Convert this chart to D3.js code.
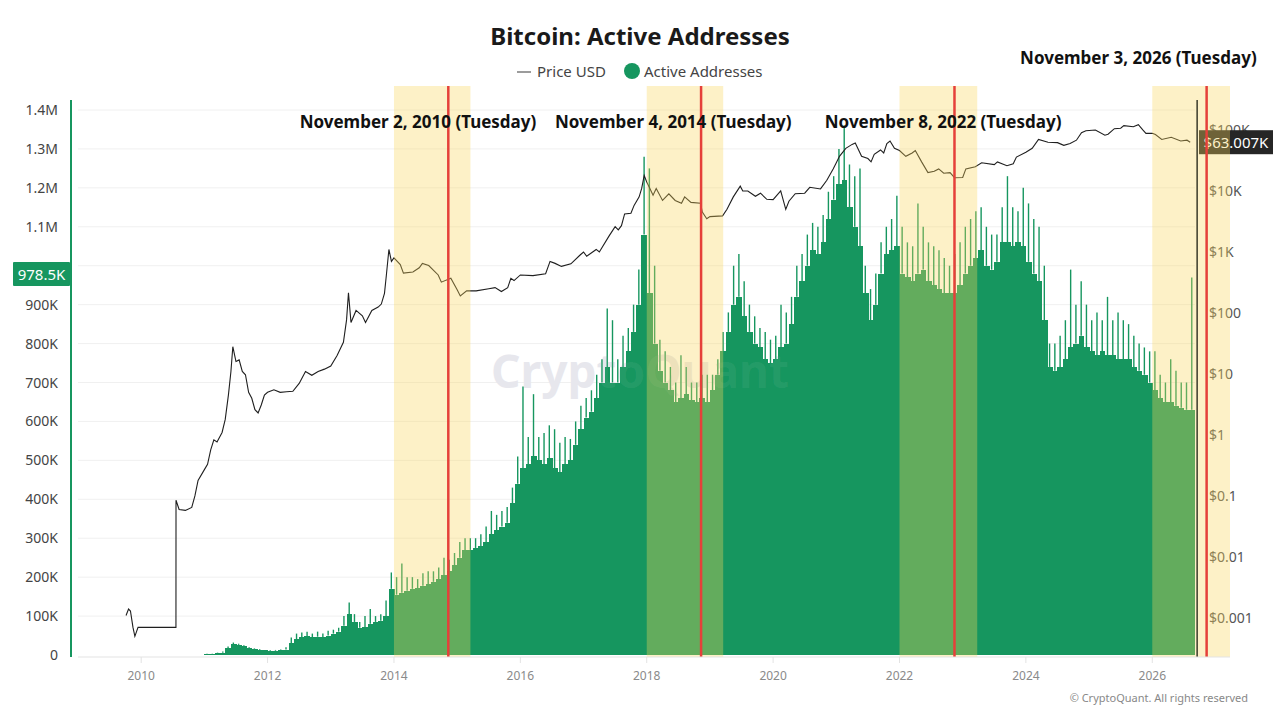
<!DOCTYPE html>
<html>
<head>
<meta charset="utf-8">
<script src="https://cdn.jsdelivr.net/npm/d3@7"></script>
<style>
  body { margin: 0; background: #fff; }
  svg { font-family: "Noto Sans", "Open Sans", sans-serif; }
</style>
</head>
<body>
<div id="chart"></div>
<script>
// Active addresses, monthly from Jan 2011, in thousands (typical level and highest daily spike)
const aaStart = 2011;
const aaBody = [
  2, 3, 4, 6, 18, 28, 26, 22, 18, 15, 13, 12,
  11, 11, 12, 14, 30, 40, 45, 48, 45, 47, 45, 50,
  55, 60, 75, 105, 85, 70, 72, 80, 85, 88, 100, 170,
  155, 160, 165, 170, 172, 178, 182, 188, 195, 205, 215, 230,
  250, 270, 270, 275, 280, 290, 310, 320, 330, 340, 390, 440,
  480, 490, 510, 500, 490, 505, 480, 470, 490, 500, 540, 580,
  610, 625, 660, 700, 740, 700, 700, 740, 780, 830, 900, 1080,
  930, 800, 730, 700, 680, 650, 660, 670, 655, 650, 660, 650,
  680, 720, 780, 830, 900, 920, 870, 830, 800, 790, 760, 750,
  760, 790, 800, 850, 920, 960, 1000, 1040, 1030, 1060, 1120, 1170,
  1210, 1220, 1150, 1100, 1050, 930, 860, 900, 980, 1030, 1040, 1050,
  980, 970, 960, 980, 990, 960, 950, 940, 930, 930, 930, 950,
  980, 1000, 1020, 1040, 1000, 990, 1010, 1060, 1060, 1050, 1060, 1050,
  1010, 980, 960, 860, 740, 730, 740, 760, 790, 800, 820, 790,
  780, 770, 780, 770, 770, 760, 760, 760, 740, 730, 720, 700,
  680, 660, 650, 650, 640, 635, 630, 630
];
const aaPeak = [
  3, 4, 6, 9, 22, 32, 29, 25, 20, 17, 15, 13,
  13, 13, 14, 20, 45, 55, 58, 60, 55, 60, 55, 62,
  65, 70, 100, 135, 105, 85, 100, 118, 100, 105, 140, 212,
  200, 235, 200, 200, 195, 210, 215, 215, 225, 250, 245, 262,
  290, 300, 300, 300, 310, 330, 370, 360, 370, 380, 430, 510,
  690, 560, 670, 560, 570, 590, 580, 545, 560, 555, 600, 640,
  660, 680, 720, 760, 890, 860, 760, 820, 840, 900, 990, 1280,
  1250, 1000, 810, 780, 740, 700, 770, 740, 700, 700, 720, 720,
  720, 760, 830, 880, 1000, 1030, 960, 900, 870, 840, 830, 810,
  820, 900, 880, 920, 1000, 1030, 1080, 1110, 1100, 1130, 1190, 1230,
  1300, 1360, 1260, 1230, 1250, 1000, 940, 980, 1060, 1100, 1120, 1180,
  1100, 1060, 1050, 1160, 1100, 1060, 1050, 1040, 1020, 1000, 1030, 1060,
  1100, 1120, 1140, 1150, 1100, 1080, 1080, 1150, 1230, 1150, 1140, 1200,
  1160, 1120, 1100, 1000, 800, 800, 820, 860, 990, 900, 960, 900,
  860, 880, 860, 920, 860, 880, 860, 850, 820, 800, 790, 780,
  780, 720, 700, 760, 730, 700, 700, 970
];

// Price USD (log axis), read at irregular dates
const priceYears = [
  2009.76, 2009.8, 2009.83, 2009.87, 2009.9, 2009.95, 2010.55, 2010.551, 2010.6, 2010.7, 2010.8,
  2010.85, 2010.9, 2011.0, 2011.05, 2011.1, 2011.15, 2011.2, 2011.28, 2011.33, 2011.38, 2011.42,
  2011.45, 2011.48, 2011.5, 2011.55, 2011.6, 2011.65, 2011.7, 2011.75, 2011.8, 2011.85, 2011.9,
  2011.95, 2012.0, 2012.1, 2012.2, 2012.3, 2012.4, 2012.5, 2012.6, 2012.7, 2012.8, 2012.9,
  2013.0, 2013.1, 2013.2, 2013.25, 2013.28, 2013.32, 2013.4, 2013.5, 2013.55, 2013.65, 2013.75,
  2013.8, 2013.85, 2013.88, 2013.92, 2013.96, 2014.0, 2014.1, 2014.15, 2014.3, 2014.4, 2014.45,
  2014.55, 2014.7, 2014.75, 2014.9, 2015.0, 2015.05, 2015.15, 2015.3, 2015.5, 2015.6, 2015.7,
  2015.8, 2015.85, 2015.9, 2016.0, 2016.2, 2016.4, 2016.47, 2016.55, 2016.65, 2016.8, 2016.95,
  2017.0, 2017.05, 2017.2, 2017.25, 2017.4, 2017.5, 2017.55, 2017.6, 2017.65, 2017.75, 2017.8,
  2017.88, 2017.92, 2017.96, 2018.0, 2018.05, 2018.1, 2018.15, 2018.25, 2018.35, 2018.45, 2018.55,
  2018.6, 2018.7, 2018.85, 2018.88, 2018.95, 2019.0, 2019.2, 2019.27, 2019.37, 2019.48, 2019.52,
  2019.6, 2019.72, 2019.8, 2019.9, 2020.0, 2020.12, 2020.2, 2020.25, 2020.35, 2020.5, 2020.58,
  2020.75, 2020.85, 2020.95, 2021.0, 2021.05, 2021.15, 2021.25, 2021.3, 2021.4, 2021.5, 2021.55,
  2021.6, 2021.7, 2021.75, 2021.8, 2021.85, 2021.92, 2022.0, 2022.1, 2022.2, 2022.25, 2022.35,
  2022.45, 2022.55, 2022.62, 2022.7, 2022.8, 2022.87, 2023.0, 2023.05, 2023.2, 2023.3, 2023.5,
  2023.55, 2023.7, 2023.8, 2023.85, 2024.0, 2024.1, 2024.2, 2024.35, 2024.5, 2024.6, 2024.7,
  2024.8, 2024.88, 2024.95, 2025.1, 2025.25, 2025.3, 2025.4, 2025.5, 2025.55, 2025.7, 2025.78,
  2025.85, 2025.9, 2026.0, 2026.05, 2026.15, 2026.3, 2026.45, 2026.55, 2026.6
];
const priceUSD = [
  0.0011, 0.0014, 0.0013, 0.0007, 0.0005, 0.0007, 0.0007, 0.085, 0.06, 0.058, 0.065,
  0.1, 0.18, 0.27, 0.33, 0.57, 0.83, 0.77, 1.1, 1.8, 4.5, 11,
  28, 20, 16, 17, 11, 9.7, 5, 4, 2.6, 2.3, 3.1,
  4.5, 5, 5.5, 5, 5.1, 5.2, 7, 11, 9.5, 11, 12,
  13.5, 20, 33, 77, 215, 70, 110, 90, 70, 110, 125,
  140, 210, 420, 1100, 700, 800, 620, 450, 470, 550, 650,
  600, 420, 320, 370, 240, 190, 230, 230, 250, 260, 225,
  260, 370, 340, 420, 410, 440, 700, 650, 580, 640, 900,
  1000, 850, 1100, 1000, 1800, 2600, 2300, 2700, 4200, 4300, 5800,
  8000, 11000, 18000, 14000, 11000, 8500, 11000, 7000, 9000, 7000, 6300,
  8000, 6500, 6300, 4500, 3500, 3800, 3900, 5000, 8000, 12000, 10000,
  10000, 8200, 9200, 7300, 7200, 10000, 5000, 6800, 9000, 9200, 11500,
  10800, 15000, 23000, 29000, 37000, 50000, 58000, 61000, 37000, 34000, 30000,
  40000, 47000, 42000, 60000, 66000, 50000, 46000, 37000, 42000, 46000, 30000,
  20000, 21000, 23000, 19500, 20000, 16500, 16600, 23000, 25000, 29000, 27000,
  30000, 26000, 28000, 36000, 43000, 50000, 70000, 63000, 62000, 56000, 60000,
  68000, 90000, 97000, 100000, 82000, 85000, 105000, 107000, 118000, 113000, 122000,
  100000, 88000, 88000, 84000, 70000, 76000, 66000, 68000, 63007
];

const aaTicks = [0, 100, 200, 300, 400, 500, 600, 700, 800, 900, 1000, 1100, 1200, 1300, 1400];
const priceTicks = [0.001, 0.01, 0.1, 1, 10, 100, 1000, 10000, 100000];
const yearTicks = [2010, 2012, 2014, 2016, 2018, 2020, 2022, 2024, 2026];

// Highlighted periods and marked election dates
const bands = [[2014.0, 2015.21], [2018.0, 2019.21], [2022.0, 2023.23], [2026.0, 2027.23]];
const markYears = [2014.86, 2018.86, 2022.87, 2026.86];
const markLabels = [
  "November 2, 2010 (Tuesday)",
  "November 4, 2014 (Tuesday)",
  "November 8, 2022 (Tuesday)",
  "November 3, 2026 (Tuesday)"
];
const cursorYear = 2026.71;
const cursorAA = 978.5;
const lastPrice = 63007;

const W = 1280, H = 720;
const green = "#16965f";

const svg = d3.select("#chart").append("svg")
  .attr("width", W).attr("height", H)
  .attr("viewBox", `0 0 ${W} ${H}`);

const x = d3.scaleLinear().domain([2009.0, 2027.23]).range([78, 1230]);
const y = d3.scaleLinear().domain([0, 1400]).range([655, 110]);
const yP = d3.scaleLog().domain([2.47e-4, 3.1e5]).range([655, 100]);

// grid
svg.append("g")
  .selectAll("line")
  .data(aaTicks.slice(1))
  .join("line")
  .attr("x1", 78).attr("x2", 1195)
  .attr("y1", d => y(d)).attr("y2", d => y(d))
  .attr("stroke", "#f0f0f0").attr("stroke-width", 1);

// watermark, mostly hidden behind the bars
svg.append("text")
  .attr("x", 640).attr("y", 388)
  .attr("text-anchor", "middle")
  .attr("font-size", 46).attr("font-weight", 700)
  .attr("fill", "#e8e8ee")
  .text("CryptoQuant");

// active address bars
const months = aaBody.map((v, i) => ({ t: aaStart + i / 12, body: v, peak: aaPeak[i] }));
const bw = x(aaStart + 1 / 12) - x(aaStart);

svg.append("g")
  .attr("shape-rendering", "crispEdges")
  .selectAll("rect")
  .data(months)
  .join("rect")
  .attr("x", d => x(d.t))
  .attr("width", bw + 0.6)
  .attr("y", d => y(d.body))
  .attr("height", d => y(0) - y(d.body))
  .attr("fill", green);

svg.append("g")
  .selectAll("line")
  .data(months)
  .join("line")
  .attr("x1", d => x(d.t + 0.5 / 12)).attr("x2", d => x(d.t + 0.5 / 12))
  .attr("y1", d => y(d.body)).attr("y2", d => y(d.peak))
  .attr("stroke", green).attr("stroke-width", 1.4);

// faint watermark over the bars
svg.append("text")
  .attr("x", 640).attr("y", 388)
  .attr("text-anchor", "middle")
  .attr("font-size", 46).attr("font-weight", 700)
  .attr("fill", "rgba(230,230,236,0.08)")
  .text("CryptoQuant");

// price line
const pts = priceYears.map((t, i) => [t, priceUSD[i]]);
svg.append("path")
  .datum(pts)
  .attr("fill", "none")
  .attr("stroke", "#1f1f1f")
  .attr("stroke-width", 1.1)
  .attr("d", d3.line().x(d => x(d[0])).y(d => yP(d[1])));

// right axis labels
svg.append("g")
  .selectAll("text")
  .data(priceTicks)
  .join("text")
  .attr("x", 1209).attr("y", d => yP(d) + 5)
  .attr("font-size", 14).attr("fill", "#555")
  .text(d => "$" + (d >= 1000 ? d3.format("~s")(d).toUpperCase() : d3.format("~g")(d)));

// last price badge
const pb = svg.append("g").attr("transform", `translate(1199,${yP(lastPrice)})`);
pb.append("rect").attr("x", 0).attr("y", -12).attr("width", 74).attr("height", 24)
  .attr("fill", "#262626");
pb.append("text").attr("x", 37).attr("y", 5.5).attr("text-anchor", "middle")
  .attr("font-size", 15).attr("fill", "#fff")
  .text("$" + d3.format(".3f")(lastPrice / 1000) + "K");

// highlighted bands (semi transparent over everything)
svg.append("g")
  .selectAll("rect")
  .data(bands)
  .join("rect")
  .attr("x", d => x(d[0]))
  .attr("width", d => x(d[1]) - x(d[0]))
  .attr("y", 86).attr("height", 657 - 86)
  .attr("fill", "rgba(250,214,92,0.34)");

// red date markers
svg.append("g")
  .selectAll("line")
  .data(markYears)
  .join("line")
  .attr("x1", d => x(d)).attr("x2", d => x(d))
  .attr("y1", 86).attr("y2", 657)
  .attr("stroke", "#e5403a").attr("stroke-width", 2.5);

// cursor line
svg.append("line")
  .attr("x1", x(cursorYear)).attr("x2", x(cursorYear))
  .attr("y1", 100).attr("y2", 657)
  .attr("stroke", "#3a3a2a").attr("stroke-width", 1.5);

// bottom axis
svg.append("line").attr("x1", 78).attr("x2", 1230).attr("y1", 657).attr("y2", 657)
  .attr("stroke", "#e3e3e3");
const xt = svg.append("g").selectAll("g").data(yearTicks).join("g")
  .attr("transform", d => `translate(${x(d)},0)`);
xt.append("line").attr("y1", 657).attr("y2", 663).attr("stroke", "#e3e3e3");
xt.append("text").attr("y", 680).attr("text-anchor", "middle")
  .attr("font-size", 12).attr("fill", "#8a8a8a").text(d => d);

// left axis (the tick under the cursor badge is hidden, as in the source)
svg.append("line").attr("x1", 71).attr("x2", 71).attr("y1", 100).attr("y2", 657)
  .attr("stroke", green).attr("stroke-width", 2);
svg.append("g")
  .selectAll("text")
  .data(aaTicks.filter(d => Math.abs(y(d) - y(cursorAA)) > 14))
  .join("text")
  .attr("x", 58).attr("y", d => y(d) + 5)
  .attr("text-anchor", "end")
  .attr("font-size", 14).attr("fill", "#444")
  .text(d => d === 0 ? "0" : d >= 1000 ? (d / 1000) + "M" : d + "K");

// cursor value badge
const ab = svg.append("g").attr("transform", `translate(13,${y(cursorAA)})`);
ab.append("rect").attr("x", 0).attr("y", -12).attr("width", 57).attr("height", 24)
  .attr("rx", 1).attr("fill", green);
ab.append("text").attr("x", 28.5).attr("y", 5.5).attr("text-anchor", "middle")
  .attr("font-size", 15).attr("fill", "#fff").text(cursorAA + "K");

// annotations
const notePos = [[2014.38, 128], [2018.42, 128], [2022.69, 128], [2025.78, 64]];
svg.append("g")
  .selectAll("text")
  .data(markLabels)
  .join("text")
  .attr("x", (d, i) => x(notePos[i][0]))
  .attr("y", (d, i) => notePos[i][1])
  .attr("text-anchor", "middle")
  .attr("font-size", 17).attr("font-weight", 700).attr("fill", "#111")
  .text(d => d);

// title and legend
svg.append("text").attr("x", 640).attr("y", 45).attr("text-anchor", "middle")
  .attr("font-size", 24).attr("font-weight", 700).attr("fill", "#1a1a1a")
  .text("Bitcoin: Active Addresses");

const lg = svg.append("g");
lg.append("line").attr("x1", 517).attr("x2", 531).attr("y1", 72).attr("y2", 72)
  .attr("stroke", "#666").attr("stroke-width", 1.3);
lg.append("text").attr("x", 537).attr("y", 77).attr("font-size", 15).attr("fill", "#444")
  .text("Price USD");
lg.append("circle").attr("cx", 632).attr("cy", 71).attr("r", 8).attr("fill", green);
lg.append("text").attr("x", 644).attr("y", 77).attr("font-size", 15).attr("fill", "#444")
  .text("Active Addresses");

svg.append("text").attr("x", 1248).attr("y", 702).attr("text-anchor", "end")
  .attr("font-size", 11).attr("fill", "#888")
  .text("© CryptoQuant. All rights reserved");
</script>
</body>
</html>
